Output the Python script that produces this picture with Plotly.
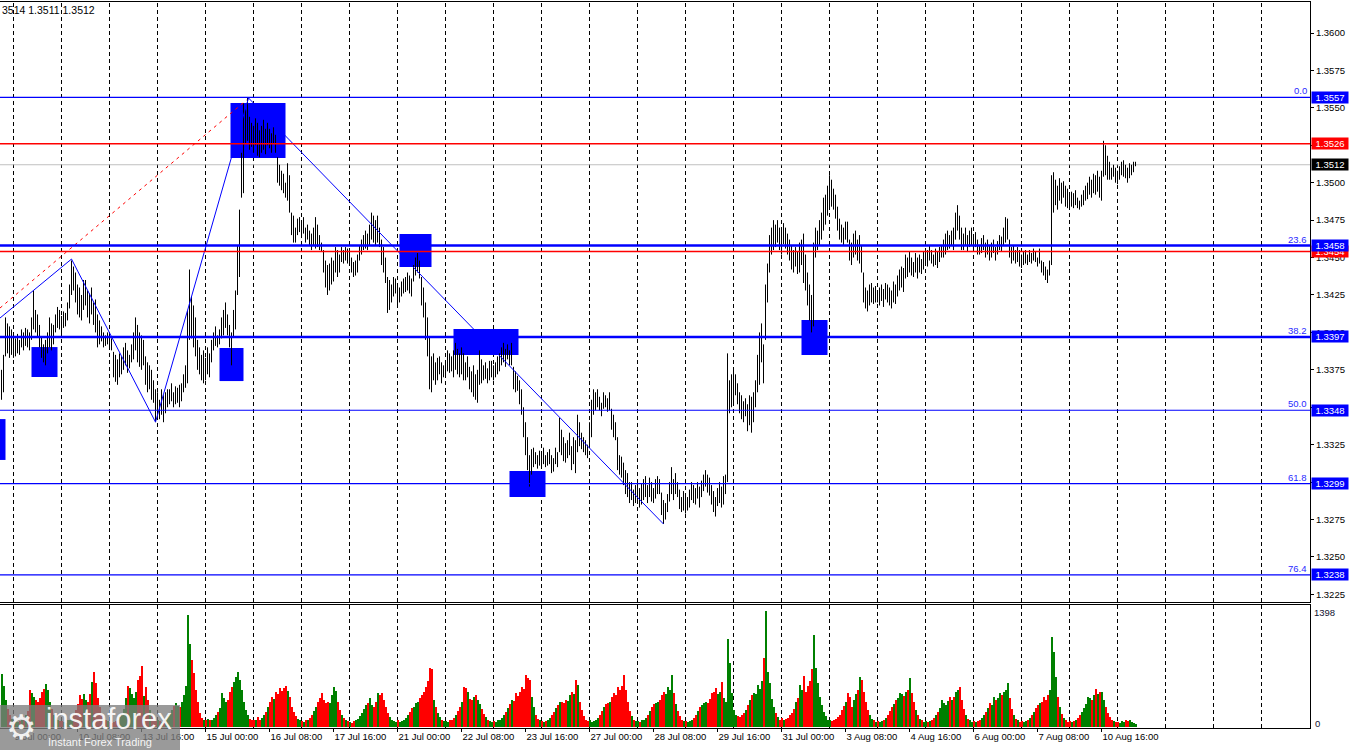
import plotly.graph_objects as go

# ---------------- DATA ----------------
# H1 bars, highs / lows in pips above 1.3000; one row per trading day (24 bars)
HIGH_ROWS = [
    [375, 385, 410, 406, 404, 402],
    [397, 396, 399, 395, 402, 400, 403, 402, 400, 410, 428, 415, 412, 405, 397, 392, 395, 400, 410, 406, 405, 412, 417, 415],
    [411, 414, 413, 420, 432, 448, 444, 440, 432, 430, 425, 435, 435, 428, 426, 430, 420, 422, 412, 408, 404, 400, 398, 400],
    [397, 396, 387, 385, 382, 386, 384, 390, 393, 388, 385, 392, 400, 410, 405, 400, 398, 395, 384, 380, 378, 375, 368, 362],
    [360, 355, 362, 358, 360, 362, 362, 366, 360, 364, 363, 365, 366, 372, 378, 415, 442, 424, 418, 410, 395, 390, 385, 388],
    [383, 390, 386, 395, 400, 404, 398, 402, 410, 415, 420, 412, 405, 400, 415, 428, 458, 482, 520, 553, 550, 557, 544, 540],
    [538, 543, 540, 535, 538, 542, 536, 540, 536, 533, 537, 532, 517, 512, 508, 506, 500, 513, 505, 480, 478, 470, 476, 477],
    [474, 477, 470, 472, 468, 466, 470, 477, 472, 465, 460, 455, 448, 445, 446, 450, 448, 457, 455, 452, 457, 455, 457, 456],
    [455, 450, 447, 448, 452, 458, 462, 465, 468, 466, 472, 480, 478, 475, 478, 470, 462, 457, 450, 437, 435, 432, 437, 436],
    [432, 430, 434, 436, 437, 440, 438, 436, 445, 450, 453, 448, 437, 430, 420, 410, 397, 384, 386, 380, 383, 384, 380, 378],
    [380, 388, 386, 384, 388, 393, 389, 386, 390, 386, 380, 384, 377, 374, 378, 372, 375, 388, 382, 378, 380, 376, 381, 381],
    [378, 380, 384, 386, 390, 393, 389, 392, 388, 393, 377, 374, 371, 368, 362, 350, 340, 330, 318, 322, 323, 320, 318, 321],
    [319, 323, 318, 320, 322, 318, 316, 323, 320, 343, 335, 330, 326, 328, 333, 324, 330, 328, 345, 340, 333, 330, 328, 325],
    [340, 355, 362, 360, 362, 357, 353, 360, 358, 356, 360, 349, 345, 340, 330, 318, 317, 313, 308, 306, 300, 300, 295, 298],
    [300, 296, 299, 302, 304, 298, 303, 300, 296, 302, 304, 302, 293, 288, 286, 292, 300, 310, 302, 306, 300, 295, 290, 294],
    [292, 290, 295, 300, 298, 296, 300, 297, 301, 305, 308, 305, 303, 298, 294, 290, 296, 300, 297, 304, 305, 386, 368, 372],
    [375, 372, 366, 360, 358, 354, 356, 352, 358, 357, 360, 368, 385, 400, 406, 392, 432, 446, 465, 470, 475, 472, 475, 470],
    [468, 473, 470, 466, 462, 458, 455, 457, 454, 460, 462, 466, 452, 440, 432, 425, 460, 470, 468, 475, 480, 490, 492, 498],
    [505, 502, 496, 492, 484, 476, 472, 470, 474, 474, 462, 460, 466, 468, 462, 465, 458, 440, 430, 428, 432, 433, 430, 431],
    [428, 430, 432, 429, 433, 432, 430, 428, 434, 432, 438, 442, 444, 443, 452, 450, 454, 450, 447, 453, 450, 452, 449, 454],
    [456, 455, 458, 455, 452, 456, 454, 457, 458, 462, 466, 468, 465, 468, 470, 480, 485, 478, 470, 466, 470, 465, 468, 470],
    [464, 467, 462, 458, 463, 465, 460, 462, 458, 460, 462, 457, 461, 465, 464, 470, 477, 476, 462, 457, 458, 455, 457, 455],
    [452, 454, 455, 452, 455, 453, 456, 454, 450, 456, 448, 447, 444, 442, 448, 505, 507, 502, 498, 503, 500, 501, 498, 496],
    [492, 494, 493, 495, 490, 488, 492, 495, 498, 500, 504, 502, 506, 505, 508, 504, 508, 528, 525, 518, 514, 510, 512, 510],
    [508, 511, 514, 515, 512, 510, 513, 512, 514, 514],
]
LOW_ROWS = [
    [355, 360, 384, 386, 383, 385],
    [383, 384, 386, 385, 390, 388, 391, 390, 388, 395, 402, 400, 397, 390, 383, 380, 378, 386, 390, 388, 392, 400, 403, 402],
    [400, 403, 404, 408, 416, 425, 428, 420, 412, 410, 408, 415, 418, 410, 406, 412, 405, 400, 390, 392, 394, 390, 391, 392],
    [390, 388, 370, 367, 365, 370, 372, 375, 378, 373, 376, 380, 382, 388, 380, 377, 375, 378, 365, 360, 362, 355, 353, 340],
    [343, 342, 345, 340, 346, 350, 352, 354, 350, 352, 353, 350, 354, 360, 363, 366, 395, 396, 390, 384, 375, 372, 368, 366],
    [368, 372, 370, 380, 388, 391, 390, 392, 396, 398, 403, 398, 390, 378, 397, 402, 425, 437, 490, 493, 526, 528, 522, 524],
    [520, 525, 518, 517, 520, 522, 519, 525, 523, 520, 526, 520, 500, 498, 495, 493, 490, 488, 480, 465, 460, 460, 465, 467],
    [463, 466, 460, 462, 458, 455, 458, 456, 457, 455, 454, 440, 430, 425, 428, 432, 434, 440, 437, 440, 447, 446, 448, 446],
    [447, 440, 437, 438, 440, 448, 452, 455, 456, 455, 458, 462, 460, 458, 460, 457, 445, 440, 433, 413, 415, 420, 424, 426],
    [418, 420, 424, 426, 427, 428, 426, 424, 434, 438, 440, 436, 418, 410, 395, 384, 362, 360, 368, 365, 368, 372, 366, 370],
    [372, 374, 373, 374, 370, 375, 372, 370, 372, 368, 368, 370, 362, 360, 357, 355, 353, 365, 366, 368, 369, 366, 368, 370],
    [368, 370, 372, 374, 378, 380, 377, 382, 378, 378, 362, 360, 361, 352, 345, 330, 318, 308, 297, 305, 310, 312, 309, 311],
    [309, 312, 310, 311, 312, 306, 307, 312, 310, 320, 318, 314, 313, 316, 318, 308, 312, 306, 320, 324, 322, 320, 318, 316],
    [323, 330, 345, 348, 350, 348, 344, 349, 350, 347, 348, 335, 330, 328, 308, 305, 303, 298, 292, 290, 286, 288, 284, 286],
    [288, 283, 285, 288, 290, 286, 290, 287, 286, 289, 292, 292, 278, 272, 275, 280, 287, 292, 288, 292, 290, 282, 280, 281],
    [279, 281, 283, 288, 286, 285, 289, 283, 290, 294, 297, 293, 291, 285, 280, 277, 284, 286, 283, 285, 292, 300, 346, 350],
    [352, 358, 352, 346, 342, 340, 344, 334, 338, 333, 340, 350, 360, 365, 380, 366, 395, 420, 440, 452, 455, 457, 460, 455],
    [452, 459, 456, 452, 448, 442, 440, 444, 439, 440, 445, 433, 428, 418, 408, 400, 404, 450, 455, 458, 462, 468, 472, 478],
    [482, 484, 482, 476, 468, 462, 460, 458, 462, 460, 448, 445, 450, 452, 448, 446, 440, 420, 416, 414, 418, 420, 419, 420],
    [420, 418, 421, 417, 422, 420, 418, 416, 420, 419, 424, 428, 430, 427, 436, 437, 440, 438, 437, 440, 436, 440, 439, 442],
    [446, 444, 448, 446, 444, 445, 443, 447, 450, 450, 452, 455, 456, 458, 455, 462, 468, 462, 455, 455, 458, 454, 457, 458],
    [456, 457, 452, 452, 453, 455, 450, 452, 448, 450, 453, 448, 452, 455, 454, 458, 460, 462, 450, 446, 448, 446, 447, 444],
    [443, 445, 446, 445, 447, 446, 448, 447, 444, 446, 440, 438, 435, 433, 438, 445, 480, 485, 482, 488, 486, 490, 484, 483],
    [482, 484, 483, 485, 483, 482, 484, 485, 488, 489, 492, 490, 493, 492, 494, 490, 488, 504, 505, 502, 502, 502, 504, 500],
    [499, 502, 505, 504, 503, 500, 503, 505, 507, 511],
]
VOLUME_ROWS = [
    [639, 494, 330, 220, 150, 100],
    [70, 60, 60, 70, 90, 110, 150, 190, 440, 406, 366, 325, 300, 350, 420, 460, 518, 446, 300, 220, 150, 120, 90, 70],
    [70, 60, 50, 80, 90, 120, 150, 200, 280, 386, 340, 398, 330, 300, 400, 546, 667, 526, 350, 240, 160, 120, 90, 70],
    [60, 50, 60, 70, 90, 120, 160, 220, 350, 494, 466, 400, 350, 420, 566, 620, 735, 374, 486, 320, 200, 130, 90, 70],
    [80, 70, 60, 80, 100, 130, 160, 200, 250, 285, 250, 240, 300, 380, 500, 1350, 1000, 807, 647, 446, 300, 165, 110, 80],
    [80, 100, 90, 84, 110, 140, 180, 230, 406, 345, 300, 325, 420, 486, 546, 600, 667, 566, 446, 300, 200, 150, 100, 80],
    [90, 80, 125, 90, 110, 140, 180, 240, 300, 366, 340, 426, 400, 466, 430, 470, 494, 438, 366, 245, 180, 130, 100, 80],
    [70, 60, 80, 90, 110, 140, 190, 240, 300, 345, 406, 330, 285, 300, 285, 380, 478, 438, 300, 210, 150, 110, 80, 70],
    [60, 50, 70, 80, 100, 130, 170, 220, 260, 285, 345, 265, 245, 300, 406, 380, 414, 320, 240, 170, 120, 90, 70, 60],
    [80, 60, 70, 90, 110, 140, 180, 230, 245, 285, 300, 345, 380, 420, 480, 560, 707, 695, 325, 240, 170, 120, 90, 70],
    [70, 60, 80, 90, 110, 140, 190, 240, 300, 478, 466, 426, 340, 320, 360, 386, 325, 280, 220, 160, 120, 90, 70, 60],
    [70, 60, 80, 90, 110, 140, 180, 230, 280, 325, 310, 406, 370, 420, 486, 460, 627, 587, 566, 360, 240, 150, 100, 80],
    [70, 60, 70, 90, 110, 140, 180, 230, 270, 300, 305, 290, 325, 310, 380, 426, 400, 566, 506, 300, 200, 130, 90, 70],
    [80, 60, 70, 90, 110, 150, 190, 240, 280, 285, 300, 360, 406, 380, 478, 450, 500, 627, 446, 300, 190, 130, 90, 70],
    [70, 60, 80, 90, 110, 140, 190, 240, 280, 290, 300, 325, 380, 426, 400, 486, 450, 627, 406, 280, 190, 130, 90, 70],
    [70, 60, 70, 90, 110, 140, 190, 240, 270, 290, 300, 285, 340, 406, 420, 466, 400, 420, 546, 350, 300, 1056, 767, 406],
    [200, 150, 130, 120, 140, 170, 210, 260, 320, 380, 406, 400, 506, 460, 560, 827, 1398, 667, 526, 340, 240, 170, 120, 90],
    [110, 90, 100, 110, 140, 165, 220, 300, 350, 506, 450, 615, 420, 500, 560, 700, 1109, 707, 526, 366, 260, 180, 130, 90],
    [80, 70, 80, 100, 120, 150, 200, 250, 300, 406, 366, 245, 330, 400, 450, 607, 566, 420, 300, 200, 140, 100, 80, 60],
    [70, 60, 70, 90, 110, 140, 190, 240, 280, 325, 350, 406, 400, 370, 420, 450, 587, 406, 300, 200, 140, 100, 80, 60],
    [70, 60, 70, 90, 110, 140, 180, 230, 325, 285, 270, 310, 366, 330, 360, 420, 440, 478, 325, 220, 150, 100, 80, 60],
    [70, 60, 70, 90, 110, 140, 180, 230, 285, 260, 366, 320, 350, 406, 380, 420, 450, 526, 345, 220, 150, 100, 80, 60],
    [70, 60, 70, 90, 110, 140, 180, 230, 270, 285, 300, 366, 330, 380, 450, 1084, 908, 607, 366, 240, 160, 110, 80, 60],
    [70, 60, 70, 90, 110, 140, 180, 230, 280, 366, 345, 330, 380, 454, 400, 426, 426, 325, 240, 170, 120, 90, 70, 60],
    [60, 50, 70, 60, 80, 70, 90, 60, 50, 40],
]
VOLUME_MAX_LABEL = 1398

# time axis (bar index of each label)
LABEL_BARS = [6, 38, 70, 102, 134, 166, 198, 230, 262, 294, 326, 358, 390, 422, 454, 486, 518, 550]
LABELS = ["9 Jul 00:00", "10 Jul 08:00", "13 Jul 16:00", "15 Jul 00:00", "16 Jul 08:00",
          "17 Jul 16:00", "21 Jul 00:00", "22 Jul 08:00", "23 Jul 16:00", "27 Jul 00:00",
          "28 Jul 08:00", "29 Jul 16:00", "31 Jul 00:00", "3 Aug 08:00", "4 Aug 16:00",
          "6 Aug 00:00", "7 Aug 08:00", "10 Aug 16:00"]
DAY_START_BARS = list(range(6, 631, 24))

PRICE_TICKS = [1.3225, 1.3250, 1.3275, 1.3300, 1.3325, 1.3350, 1.3375, 1.3400,
               1.3425, 1.3450, 1.3475, 1.3500, 1.3525, 1.3550, 1.3575, 1.3600]

FIB_LEVELS = [("0.0", 1.3557), ("23.6", 1.3458), ("38.2", 1.3397),
              ("50.0", 1.3348), ("61.8", 1.3299), ("76.4", 1.3238)]
RED_LEVELS = [1.3526, 1.3454]
LAST_PRICE = 1.3512
OHLC_TEXT = "3514 1.3511 1.3512"

# zones: (first bar, last bar, top price, bottom price)
ZONES = [(114.5, 142, 1.35532, 1.35165), (199, 215, 1.34657, 1.34437),
         (226, 258.5, 1.34023, 1.33849), (254, 272, 1.33074, 1.32900),
         (400, 413, 1.34083, 1.33849), (15, 28, 1.33902, 1.33702),
         (109, 121, 1.33896, 1.33675), (-0.75, 2, 1.33421, 1.33148)]
ZIGZAG_X = [-0.75, 35, 77, 123.5, 331]
ZIGZAG_Y = [1.34096, 1.34490, 1.33401, 1.35566, 1.32720]
RED_TREND_X = [-0.75, 122.5]
RED_TREND_Y = [1.34163, 1.35552]

# ---------------- BUILD ----------------
def flat(rows):
    return [v for r in rows for v in r]

high = [1.3 + p / 10000 for p in flat(HIGH_ROWS)]
low = [1.3 + p / 10000 for p in flat(LOW_ROWS)]
vol = flat(VOLUME_ROWS)
n = min(len(high), len(low), len(vol))

bx, by = [], []
for i in range(n):
    bx += [i, i, None]
    by += [low[i], high[i], None]

mid = [(high[i] + low[i]) / 2 for i in range(n)]
vcol = ["#008000" if (i == 0 or mid[i] >= mid[i - 1]) else "#ff0000" for i in range(n)]

FONT = "Liberation Sans, Arial, sans-serif"
BLUE = "#0000ff"
XR = [-0.75, 654.25]          # 2 px per H1 bar, bar centres on pixel centres
YR = [1.321991, 1.362071]

fig = go.Figure()
fig.add_trace(go.Scatter(x=bx, y=by, mode="lines", line=dict(color="black", width=1),
                         xaxis="x", yaxis="y", hoverinfo="skip", showlegend=False))
fig.add_trace(go.Scatter(x=ZIGZAG_X, y=ZIGZAG_Y, mode="lines", line=dict(color=BLUE, width=1),
                         xaxis="x", yaxis="y", hoverinfo="skip", showlegend=False))
fig.add_trace(go.Scatter(x=RED_TREND_X, y=RED_TREND_Y, mode="lines",
                         line=dict(color="#ff0000", width=1, dash="3px,4px"),
                         xaxis="x", yaxis="y", hoverinfo="skip", showlegend=False))
fig.add_trace(go.Bar(x=list(range(n)), y=vol[:n], marker=dict(color=vcol[:n], line=dict(width=0)),
                     width=1.0, xaxis="x2", yaxis="y2", hoverinfo="skip", showlegend=False))

shapes = []
for (x0, x1, t, b) in ZONES:
    shapes.append(dict(type="rect", xref="x", yref="y", x0=x0, x1=x1, y0=b, y1=t,
                       fillcolor=BLUE, line=dict(width=0), layer="below"))
for d in DAY_START_BARS:
    shapes.append(dict(type="line", xref="x", yref="paper", x0=d, x1=d, y0=0, y1=1,
                       line=dict(color="black", width=1, dash="4px,3px"), layer="below"))
shapes.append(dict(type="line", xref="paper", yref="y", x0=0, x1=1, y0=LAST_PRICE, y1=LAST_PRICE,
                   line=dict(color="#c0c0c0", width=1), layer="below"))
for lv in RED_LEVELS:
    shapes.append(dict(type="line", xref="paper", yref="y", x0=0, x1=1, y0=lv, y1=lv,
                       line=dict(color="#ff0000", width=1.5), layer="above"))
for name, lv in FIB_LEVELS:
    w = 2.5 if name in ("23.6", "38.2") else 1.2
    shapes.append(dict(type="line", xref="paper", yref="y", x0=0, x1=1, y0=lv, y1=lv,
                       line=dict(color=BLUE, width=w), layer="above"))

# watermark box (paper coords, bottom-left)
PH = 726.0
def py(ypx):
    return (728 - ypx) / PH
shapes.append(dict(type="rect", xref="paper", yref="paper", x0=0, x1=180 / 1310, y0=py(750), y1=py(705),
                   fillcolor="rgba(125,125,125,0.78)", line=dict(width=0), layer="above"))

ann = []
for name, lv in FIB_LEVELS:
    ann.append(dict(xref="paper", yref="y", x=1, y=lv, xanchor="right", yanchor="bottom", xshift=-2,
                    text=name, showarrow=False, font=dict(family=FONT, size=9.5, color="#2a2aff"),
                    borderpad=0))
boxes = [(RED_LEVELS[0], "#ff0000"), (LAST_PRICE, "#000000"), (RED_LEVELS[1], "#ff0000")]
boxes += [(lv, BLUE) for _, lv in FIB_LEVELS]
for lv, c in boxes:
    ann.append(dict(xref="paper", yref="y", x=1, y=lv, xanchor="left", yanchor="middle", xshift=1,
                    text=f"{lv:.4f}", showarrow=False, bgcolor=c, width=34, height=9, borderpad=1,
                    font=dict(family=FONT, size=9.5, color="white")))
ann.append(dict(xref="paper", yref="paper", x=0, y=py(10.5), xanchor="left", yanchor="middle",
                text=OHLC_TEXT, showarrow=False, font=dict(family=FONT, size=10.5, color="black")))
ann.append(dict(xref="paper", yref="paper", x=1, y=py(612), xanchor="left", yanchor="middle", xshift=2,
                text=str(VOLUME_MAX_LABEL), showarrow=False, font=dict(family=FONT, size=9.5, color="#101030")))
ann.append(dict(xref="paper", yref="paper", x=1, y=py(723), xanchor="left", yanchor="middle", xshift=3,
                text="0", showarrow=False, font=dict(family=FONT, size=9.5, color="#101030")))
# watermark texts
ann.append(dict(xref="paper", yref="paper", x=4 / 1310, y=py(727), xanchor="left", yanchor="middle",
                text="⚙", showarrow=False, font=dict(family="DejaVu Sans", size=34, color="rgba(255,255,255,0.9)")))
ann.append(dict(xref="paper", yref="paper", x=44 / 1310, y=py(719), xanchor="left", yanchor="middle",
                text="instaforex", showarrow=False, font=dict(family=FONT, size=29, color="rgba(255,255,255,0.92)")))
ann.append(dict(xref="paper", yref="paper", x=46 / 1310, y=py(742), xanchor="left", yanchor="middle",
                text="Instant Forex Trading", showarrow=False, font=dict(family=FONT, size=11, color="rgba(255,255,255,0.92)")))

main_bottom = py(602)
vol_top = py(605)
VOL_RANGE = [-12, 1470]

fig.update_layout(
    width=1350, height=750,
    margin=dict(l=0, r=40, t=2, b=22, pad=0, autoexpand=False),
    paper_bgcolor="white", plot_bgcolor="white",
    hovermode=False, showlegend=False, bargap=0,
    font=dict(family=FONT, size=9.5, color="black"),
    xaxis=dict(domain=[0, 1], range=XR, anchor="y", showticklabels=False, showgrid=False,
               zeroline=False, showline=True, mirror=True, linecolor="black", linewidth=1, ticks=""),
    yaxis=dict(domain=[main_bottom, 1], range=YR, side="right", anchor="x",
               tickmode="array", tickvals=PRICE_TICKS, ticktext=[f"{v:.4f}" for v in PRICE_TICKS],
               ticks="outside", ticklen=3, tickcolor="black", showgrid=False, zeroline=False,
               showline=True, mirror=True, linecolor="black", linewidth=1,
               tickfont=dict(family=FONT, size=9.5, color="black")),
    xaxis2=dict(domain=[0, 1], range=XR, anchor="y2", tickmode="array", tickvals=LABEL_BARS,
                ticktext=LABELS, ticks="outside", ticklen=3, tickcolor="black",
                ticklabelposition="outside right", showgrid=False, zeroline=False,
                showline=True, mirror=True, linecolor="black", linewidth=1,
                tickfont=dict(family=FONT, size=9.5, color="black")),
    yaxis2=dict(domain=[0, vol_top], range=VOL_RANGE, side="right", anchor="x2",
                showticklabels=False, ticks="", showgrid=False, zeroline=False,
                showline=True, mirror=True, linecolor="black", linewidth=1),
    shapes=shapes, annotations=ann,
)

fig.write_html("out.html", config={"displayModeBar": False},
               post_script="document.body.style.margin='0';document.body.style.overflow='hidden';")
